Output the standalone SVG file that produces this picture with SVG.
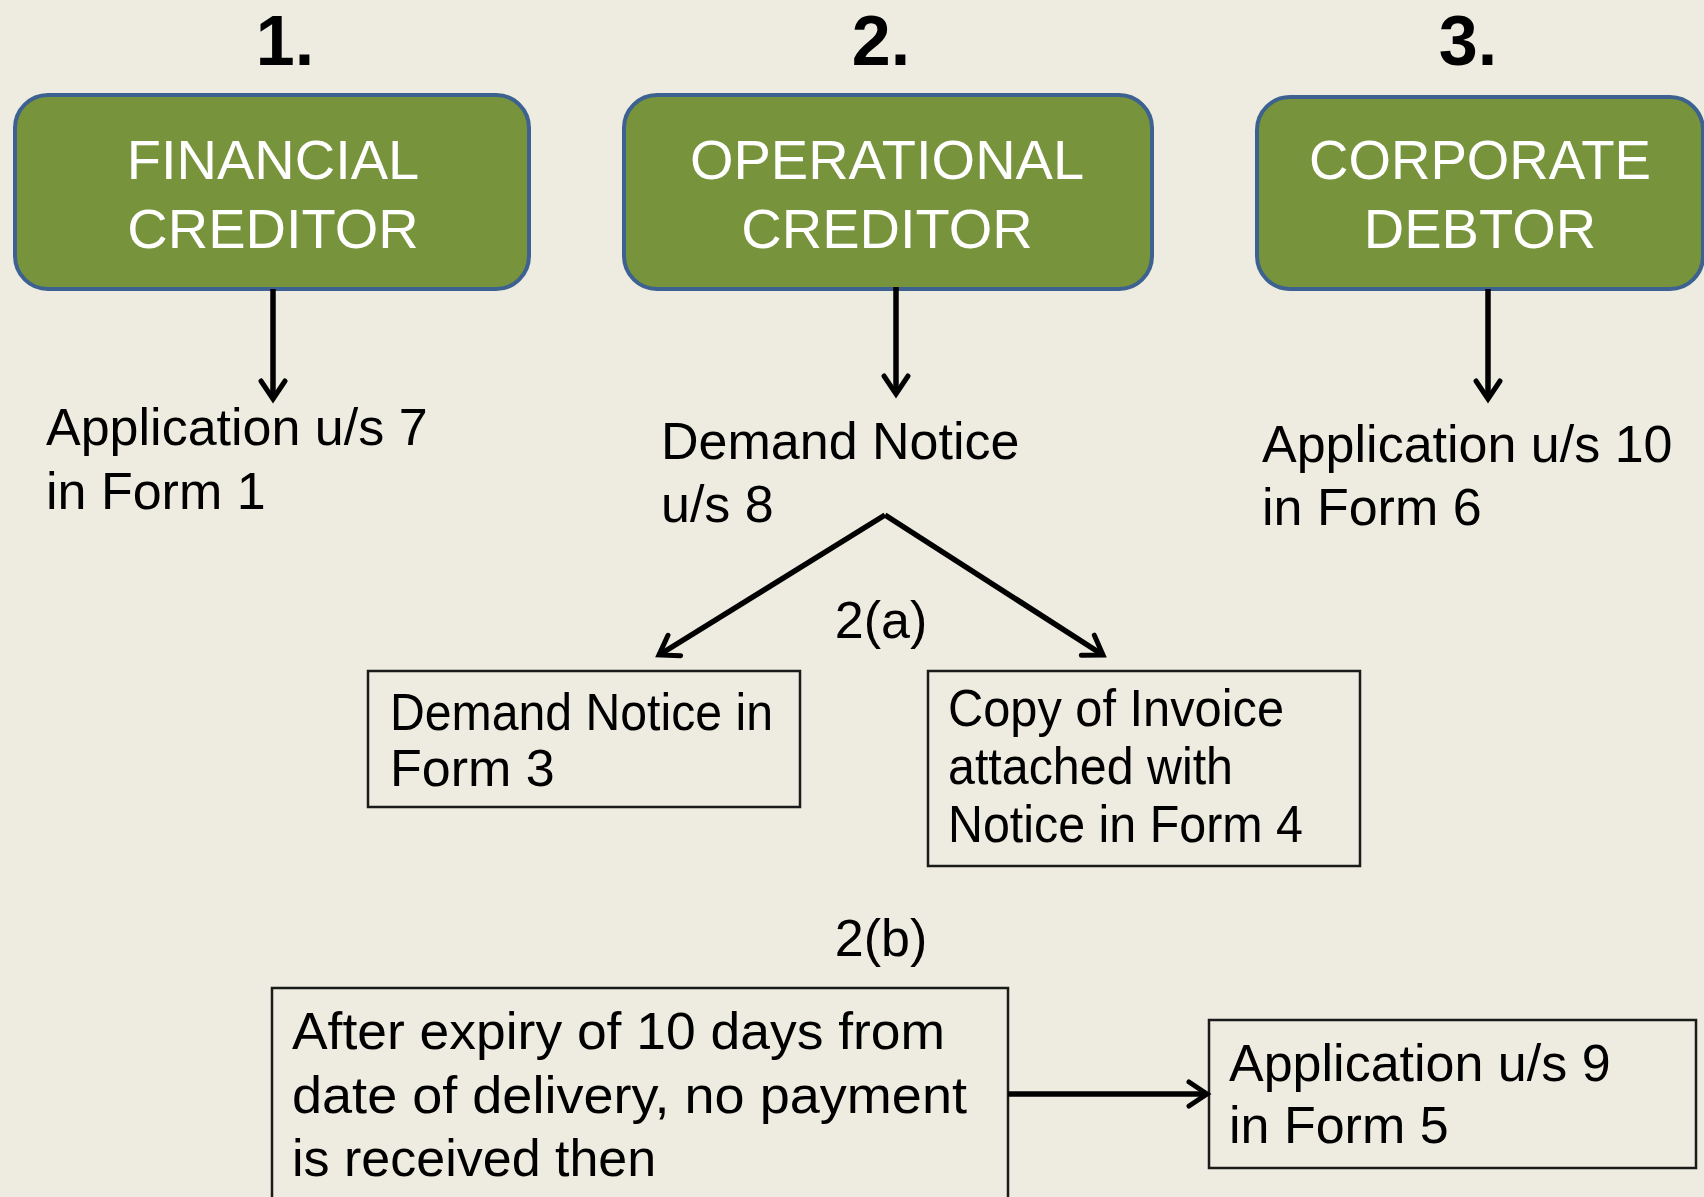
<svg xmlns="http://www.w3.org/2000/svg" width="1704" height="1197" viewBox="0 0 1704 1197">
<defs>
<style>
.bg{fill:#EEECE1}
.head{fill:#77933C;stroke:#3D6190;stroke-width:4}
.ht{font-family:"Liberation Sans",Arial,sans-serif;font-size:56px;fill:#FFFFFF;text-anchor:middle}
.num{font-family:"Liberation Sans",Arial,sans-serif;font-size:70px;font-weight:bold;fill:#000;text-anchor:middle}
.t{font-family:"Liberation Sans",Arial,sans-serif;font-size:52px;fill:#000}
.c{text-anchor:middle}
.box{fill:none;stroke:#1a1a1a;stroke-width:2.5}
.ln{fill:none;stroke:#000;stroke-width:5.5;marker-end:url(#ah)}
</style>
<marker id="ah" markerUnits="userSpaceOnUse" viewBox="0 0 26 30" refX="21" refY="15" markerWidth="26" markerHeight="30" orient="auto">
<path d="M3,3 L21,15 L3,27" fill="none" stroke="#000" stroke-width="5" stroke-linecap="round" stroke-linejoin="miter"/>
</marker>
</defs>
<rect class="bg" x="0" y="0" width="1704" height="1197"/>

<g id="num1"><text class="num" x="285" y="65">1.</text></g>
<g id="num2"><text class="num" x="881" y="65">2.</text></g>
<g id="num3"><text class="num" x="1468" y="65">3.</text></g>

<g id="financial-creditor">
<rect class="head" x="15" y="95" width="514" height="194" rx="33" ry="33"/>
<text class="ht" x="273" y="179">FINANCIAL</text>
<text class="ht" x="273" y="248">CREDITOR</text>
</g>
<g id="operational-creditor">
<rect class="head" x="624" y="95" width="528" height="194" rx="33" ry="33"/>
<text class="ht" x="887" y="179">OPERATIONAL</text>
<text class="ht" x="887" y="248">CREDITOR</text>
</g>
<g id="corporate-debtor">
<rect class="head" x="1257" y="97" width="446" height="192" rx="33" ry="33"/>
<text class="ht" x="1480" y="179" textLength="342" lengthAdjust="spacingAndGlyphs">CORPORATE</text>
<text class="ht" x="1480" y="248">DEBTOR</text>
</g>

<g id="app7">
<text class="t" x="46" y="445">Application u/s 7</text>
<text class="t" x="46" y="509">in Form 1</text>
</g>
<g id="demand-notice">
<text class="t" x="661" y="459">Demand Notice</text>
<text class="t" x="661" y="522">u/s 8</text>
</g>
<g id="app10">
<text class="t" x="1262" y="462">Application u/s 10</text>
<text class="t" x="1262" y="525">in Form 6</text>
</g>

<g id="label-2a"><text class="t c" x="881" y="638">2(a)</text></g>

<g id="form3">
<rect class="box" x="368" y="671" width="432" height="136"/>
<text class="t" x="390" y="730" textLength="383" lengthAdjust="spacingAndGlyphs">Demand Notice in</text>
<text class="t" x="390" y="786">Form 3</text>
</g>
<g id="form4">
<rect class="box" x="928" y="671" width="432" height="195"/>
<text class="t" x="948" y="726" textLength="336" lengthAdjust="spacingAndGlyphs">Copy of Invoice</text>
<text class="t" x="948" y="784" textLength="285" lengthAdjust="spacingAndGlyphs">attached with</text>
<text class="t" x="948" y="842" textLength="355" lengthAdjust="spacingAndGlyphs">Notice in Form 4</text>
</g>

<g id="label-2b"><text class="t c" x="881" y="956">2(b)</text></g>

<g id="expiry">
<rect class="box" x="272" y="988" width="736" height="220"/>
<text class="t" x="292" y="1049" textLength="653" lengthAdjust="spacingAndGlyphs">After expiry of 10 days from</text>
<text class="t" x="292" y="1113" textLength="675" lengthAdjust="spacingAndGlyphs">date of delivery, no payment</text>
<text class="t" x="292" y="1176">is received then</text>
</g>
<g id="app9">
<rect class="box" x="1209" y="1020" width="487" height="148"/>
<text class="t" x="1229" y="1081">Application u/s 9</text>
<text class="t" x="1229" y="1143">in Form 5</text>
</g>

<g id="connectors">
<line class="ln" x1="273" y1="289" x2="273" y2="399"/>
<line class="ln" x1="896" y1="287" x2="896" y2="394"/>
<line class="ln" x1="1488" y1="289" x2="1488" y2="399"/>
<line class="ln" x1="885" y1="515" x2="659" y2="655"/>
<line class="ln" x1="885" y1="515" x2="1103" y2="655"/>
<line class="ln" x1="1008" y1="1094" x2="1207" y2="1094"/>
</g>
</svg>
